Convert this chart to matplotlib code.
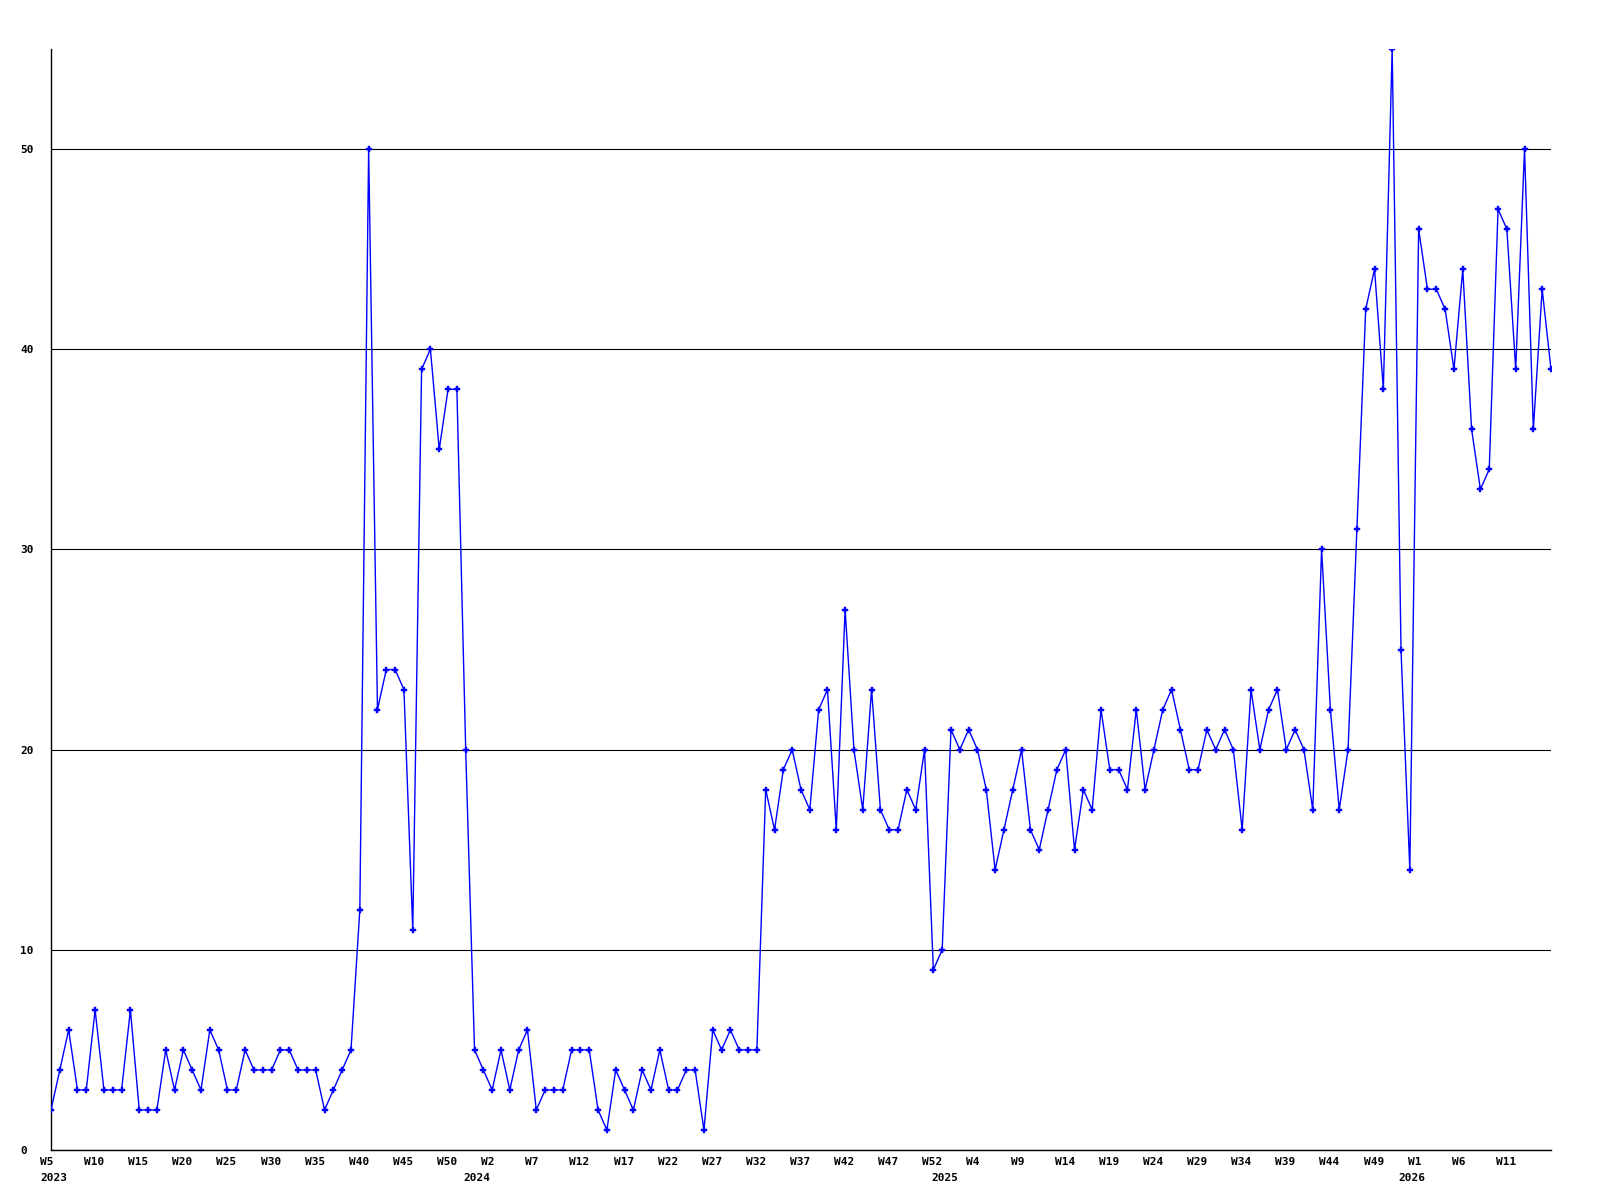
import matplotlib
matplotlib.use('Agg')
import matplotlib.pyplot as plt
import matplotlib.transforms as mtransforms

# weekly counts, split by year (index 0 = 2023 W5)
vals_2023 = [2, 4, 6, 3, 3, 7, 3, 3, 3, 7, 2, 2, 2, 5, 3, 5, 4, 3, 6, 5, 3, 3, 5, 4,
             4, 4, 5, 5, 4, 4, 4, 2, 3, 4, 5, 12, 50, 22, 24, 24, 23, 11, 39, 40, 35, 38, 38, 20]
vals_2024 = [5, 4, 3, 5, 3, 5, 6, 2, 3, 3, 3, 5, 5, 5, 2, 1, 4, 3, 2, 4, 3, 5, 3, 3, 4, 4, 1,
             6, 5, 6, 5, 5, 5, 18, 16, 19, 20, 18, 17, 22, 23, 16, 27, 20, 17, 23, 17, 16, 16,
             18, 17, 20, 9]
vals_2025 = [10, 21, 20, 21, 20, 18, 14, 16, 18, 20, 16, 15, 17, 19, 20, 15, 18, 17, 22, 19,
             19, 18, 22, 18, 20, 22, 23, 21, 19, 19, 21, 20, 21, 20, 16, 23, 20, 22, 23, 20,
             21, 20, 17, 30, 22, 17, 20, 31, 42, 44, 38, 55, 25]
vals_2026 = [14, 46, 43, 43, 42, 39, 44, 36, 33, 34, 47, 46, 39, 50, 36, 43, 39]

week_labels = ['W5', 'W10', 'W15', 'W20', 'W25', 'W30', 'W35', 'W40', 'W45', 'W50',
               'W2', 'W7', 'W12', 'W17', 'W22', 'W27', 'W32', 'W37', 'W42', 'W47', 'W52',
               'W4', 'W9', 'W14', 'W19', 'W24', 'W29', 'W34', 'W39', 'W44', 'W49',
               'W1', 'W6', 'W11']
year_labels = ['2023', '2024', '2025', '2026']
yticks = [0, 10, 20, 30, 40, 50]

values = vals_2023 + vals_2024 + vals_2025 + vals_2026
x = list(range(len(values)))
year_pos = [0, len(vals_2023), len(vals_2023) + len(vals_2024),
            len(vals_2023) + len(vals_2024) + len(vals_2025)]
week_pos = list(range(0, 5 * len(week_labels), 5))

font = dict(family='DejaVu Sans Mono', weight='bold', size=8)

fig = plt.figure(figsize=(16, 12), dpi=100)
ax = fig.add_axes([51/1600, 50/1200, 1500/1600, 1101/1200])

ax.plot(x, values, color='#0000ff', lw=1.0, marker='P', markersize=4.5,
        markeredgewidth=0.3, zorder=3)

ax.set_xlim(0, len(values) - 1)
ax.set_ylim(0, 55)
ax.set_xticks([])
ax.yaxis.grid(True, color='black', lw=0.8)
ax.set_axisbelow(True)
ax.set_yticks(yticks)
ax.set_yticklabels([])
ax.tick_params(axis='y', length=0)

for s in ['top', 'right']:
	ax.spines[s].set_visible(False)
for s in ['left', 'bottom']:
	ax.spines[s].set_color('black')
	ax.spines[s].set_linewidth(1.0)

# y labels, left aligned in the margin
ybase = mtransforms.blended_transform_factory(fig.transFigure, ax.transData)
ylab_trans = mtransforms.offset_copy(ybase, fig=fig, x=0, y=-1, units='dots')
for v in yticks:
	ax.text(20/1600, v, str(v), transform=ylab_trans, ha='left', va='center', **font)

base = mtransforms.blended_transform_factory(ax.transData, ax.transAxes)
wtrans = mtransforms.offset_copy(base, fig=fig, x=-11, y=-12, units='dots')
ytrans = mtransforms.offset_copy(base, fig=fig, x=-11, y=-28, units='dots')
for p, lab in zip(week_pos, week_labels):
	ax.text(p, 0, lab, transform=wtrans, ha='left', va='center', **font)
for p, lab in zip(year_pos, year_labels):
	ax.text(p, 0, lab, transform=ytrans, ha='left', va='center', **font)

fig.savefig('out.png', dpi=100)
